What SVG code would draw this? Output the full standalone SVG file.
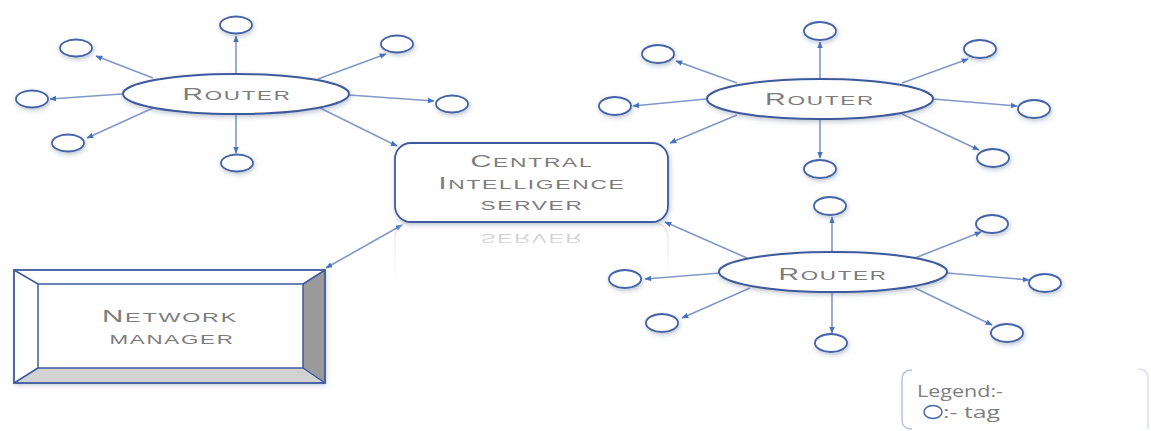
<svg xmlns="http://www.w3.org/2000/svg" width="1151" height="431" viewBox="0 0 1151 431">
  <style>
    .tag { fill: #ffffff; stroke: #4563a8; stroke-width: 1.8; filter: url(#soft); }
    .router { fill: #ffffff; stroke: #3d5a9c; stroke-width: 2; filter: url(#soft); }
    .box { fill: #ffffff; stroke: #3d5a9c; stroke-width: 1.8; }
    .cap { font-family: "Liberation Sans", Arial, sans-serif; fill: #7c7c7c; text-anchor: middle; letter-spacing: 1px; }
    .big { font-size: 16.5px; }
    .sm { font-size: 13px; }
    .link { stroke: #8298c8; stroke-width: 1.6; fill: none; marker-end: url(#ah); }
    .legend { font-family: "Open Sans", "Liberation Sans", sans-serif; font-size: 16px; fill: #7f7f7f; }
  </style>
  <defs>
    <filter id="soft" x="-30%" y="-40%" width="160%" height="190%">
      <feDropShadow dx="1" dy="2" stdDeviation="2.4" flood-color="#5a6a8a" flood-opacity="0.4"/>
    </filter>
    <marker id="ah" viewBox="0 0 10 10" refX="9" refY="5" markerWidth="7" markerHeight="7" orient="auto-start-reverse" markerUnits="userSpaceOnUse">
      <path d="M0,1 L10,5 L0,9 z" fill="#4472c4"/>
    </marker>
    <linearGradient id="fade" x1="0" y1="0" x2="0" y2="1">
      <stop offset="0" stop-color="#ffffff" stop-opacity="0.45"/>
      <stop offset="1" stop-color="#ffffff" stop-opacity="0"/>
    </linearGradient>
    <mask id="reflMask" maskUnits="userSpaceOnUse" x="380" y="222" width="300" height="60">
      <rect x="380" y="222" width="300" height="60" fill="url(#fade)"/>
    </mask>
  </defs>

  <!-- connectors -->
  <g id="connectors">
    <!-- router 1 -->
    <line class="link" x1="236" y1="74" x2="236" y2="36"/>
    <line class="link" x1="153" y1="78" x2="96" y2="56"/>
    <line class="link" x1="122" y1="94" x2="50" y2="99"/>
    <line class="link" x1="153" y1="108" x2="87" y2="138"/>
    <line class="link" x1="236" y1="114" x2="236" y2="153"/>
    <line class="link" x1="318" y1="79" x2="386" y2="54"/>
    <line class="link" x1="349" y1="95" x2="434" y2="101"/>
    <line class="link" x1="320" y1="108" x2="397" y2="146"/>
    <!-- router 2 -->
    <line class="link" x1="820" y1="79" x2="820" y2="42"/>
    <line class="link" x1="737" y1="83" x2="676" y2="61"/>
    <line class="link" x1="706" y1="99" x2="633" y2="106"/>
    <line class="link" x1="737" y1="115" x2="670" y2="143"/>
    <line class="link" x1="902" y1="83" x2="968" y2="59"/>
    <line class="link" x1="933" y1="99" x2="1017" y2="106"/>
    <line class="link" x1="902" y1="114" x2="979" y2="150"/>
    <line class="link" x1="820" y1="119" x2="820" y2="158"/>
    <!-- router 3 -->
    <line class="link" x1="832" y1="252" x2="832" y2="217"/>
    <line class="link" x1="747" y1="258" x2="665" y2="222"/>
    <line class="link" x1="720" y1="273" x2="645" y2="279"/>
    <line class="link" x1="750" y1="288" x2="682" y2="318"/>
    <line class="link" x1="915" y1="258" x2="981" y2="232"/>
    <line class="link" x1="947" y1="273" x2="1029" y2="280"/>
    <line class="link" x1="915" y1="288" x2="992" y2="325"/>
    <line class="link" x1="832" y1="292" x2="832" y2="333"/>
    <!-- server to network manager -->
    <line class="link" x1="402" y1="225" x2="326" y2="268" marker-start="url(#ah)"/>
  </g>

  <!-- router 1 with tags -->
  <g id="router1">
    <ellipse class="router" cx="236" cy="94" rx="113" ry="20"/>
    <text class="cap" x="237" y="100" textLength="109" lengthAdjust="spacingAndGlyphs"><tspan class="big">R</tspan><tspan class="sm">OUTER</tspan></text>
  </g>
  <g id="router1-tags">
    <ellipse class="tag" cx="236" cy="25" rx="16" ry="8.5"/>
    <ellipse class="tag" cx="76" cy="48" rx="16" ry="8.5"/>
    <ellipse class="tag" cx="32" cy="99" rx="16" ry="8.5"/>
    <ellipse class="tag" cx="68" cy="143" rx="16" ry="8.5"/>
    <ellipse class="tag" cx="237" cy="163" rx="16" ry="8.5"/>
    <ellipse class="tag" cx="397" cy="44" rx="16" ry="8.5"/>
    <ellipse class="tag" cx="452" cy="104" rx="16" ry="8.5"/>
  </g>

  <!-- router 2 with tags -->
  <g id="router2">
    <ellipse class="router" cx="820" cy="99" rx="113" ry="20"/>
    <text class="cap" x="820" y="105" textLength="110" lengthAdjust="spacingAndGlyphs"><tspan class="big">R</tspan><tspan class="sm">OUTER</tspan></text>
  </g>
  <g id="router2-tags">
    <ellipse class="tag" cx="820" cy="31" rx="16" ry="9"/>
    <ellipse class="tag" cx="658" cy="54" rx="16" ry="9"/>
    <ellipse class="tag" cx="615" cy="106" rx="16" ry="9"/>
    <ellipse class="tag" cx="980" cy="49" rx="16" ry="9"/>
    <ellipse class="tag" cx="1034" cy="109" rx="16" ry="9"/>
    <ellipse class="tag" cx="993" cy="158" rx="16" ry="9"/>
    <ellipse class="tag" cx="820" cy="169" rx="16" ry="9"/>
  </g>

  <!-- router 3 with tags -->
  <g id="router3">
    <ellipse class="router" cx="833" cy="272" rx="114" ry="20"/>
    <text class="cap" x="833" y="280" textLength="109" lengthAdjust="spacingAndGlyphs"><tspan class="big">R</tspan><tspan class="sm">OUTER</tspan></text>
  </g>
  <g id="router3-tags">
    <ellipse class="tag" cx="830" cy="206" rx="16" ry="9"/>
    <ellipse class="tag" cx="992" cy="224" rx="16" ry="9"/>
    <ellipse class="tag" cx="1045" cy="283" rx="16" ry="9"/>
    <ellipse class="tag" cx="1007" cy="333" rx="16" ry="9"/>
    <ellipse class="tag" cx="831" cy="343" rx="16" ry="9"/>
    <ellipse class="tag" cx="662" cy="323" rx="16" ry="9"/>
    <ellipse class="tag" cx="625" cy="279" rx="16" ry="9"/>
  </g>

  <!-- central intelligence server -->
  <g id="server">
    <g mask="url(#reflMask)">
      <g transform="matrix(1 0 0 -1 0 444)">
        <rect x="395" y="143" width="273" height="79" rx="16" fill="none" stroke="#c8c8c8" stroke-width="1.5"/>
        <text class="cap" x="532" y="210" textLength="103" lengthAdjust="spacingAndGlyphs" fill="#9a9a9a"><tspan class="sm">SERVER</tspan></text>
      </g>
    </g>
    <rect class="box" x="395" y="143" width="273" height="79" rx="16" filter="url(#soft)"/>
    <text class="cap" x="532" y="167" textLength="123" lengthAdjust="spacingAndGlyphs"><tspan class="big">C</tspan><tspan class="sm">ENTRAL</tspan></text>
    <text class="cap" x="532" y="189" textLength="187" lengthAdjust="spacingAndGlyphs"><tspan class="big">I</tspan><tspan class="sm">NTELLIGENCE</tspan></text>
    <text class="cap" x="532" y="210" textLength="103" lengthAdjust="spacingAndGlyphs"><tspan class="sm">SERVER</tspan></text>
  </g>

  <!-- network manager (bevelled box) -->
  <g id="network-manager">
    <rect x="14" y="270" width="311" height="113" fill="#ffffff" filter="url(#soft)"/>
    <polygon points="303,284 325,270 325,383 303,368" fill="#9a9a9a"/>
    <polygon points="38,368 303,368 325,383 14,383" fill="#d2d2d2"/>
    <rect x="14" y="270" width="311" height="113" fill="none" stroke="#3d5a9c" stroke-width="1.8"/>
    <rect x="38" y="284" width="265" height="84" fill="none" stroke="#3d5a9c" stroke-width="1.5"/>
    <path d="M14,270 L38,284 M325,270 L303,284 M14,383 L38,368 M325,383 L303,368" stroke="#3d5a9c" stroke-width="1.5" fill="none"/>
    <text class="cap" x="170" y="322" textLength="136" lengthAdjust="spacingAndGlyphs"><tspan class="big">N</tspan><tspan class="sm">ETWORK</tspan></text>
    <text class="cap" x="172" y="344" textLength="125" lengthAdjust="spacingAndGlyphs"><tspan class="sm">MANAGER</tspan></text>
  </g>

  <!-- legend -->
  <g id="legend">
    <path d="M912,370 Q902,370 902,380 L902,420 Q902,429 912,429" fill="none" stroke="#b4c4e2" stroke-width="1.5"/>
    <path d="M1138,369 Q1148,369 1148,379 L1148,429" fill="none" stroke="#d4def0" stroke-width="1.5"/>
    <text class="legend" x="917" y="397" textLength="86" lengthAdjust="spacingAndGlyphs">Legend:-</text>
    <ellipse cx="933" cy="412" rx="9" ry="6.5" fill="#ffffff" stroke="#4563a8" stroke-width="1.4"/>
    <text class="legend" x="943" y="418" textLength="57" lengthAdjust="spacingAndGlyphs">:- tag</text>
  </g>
</svg>
